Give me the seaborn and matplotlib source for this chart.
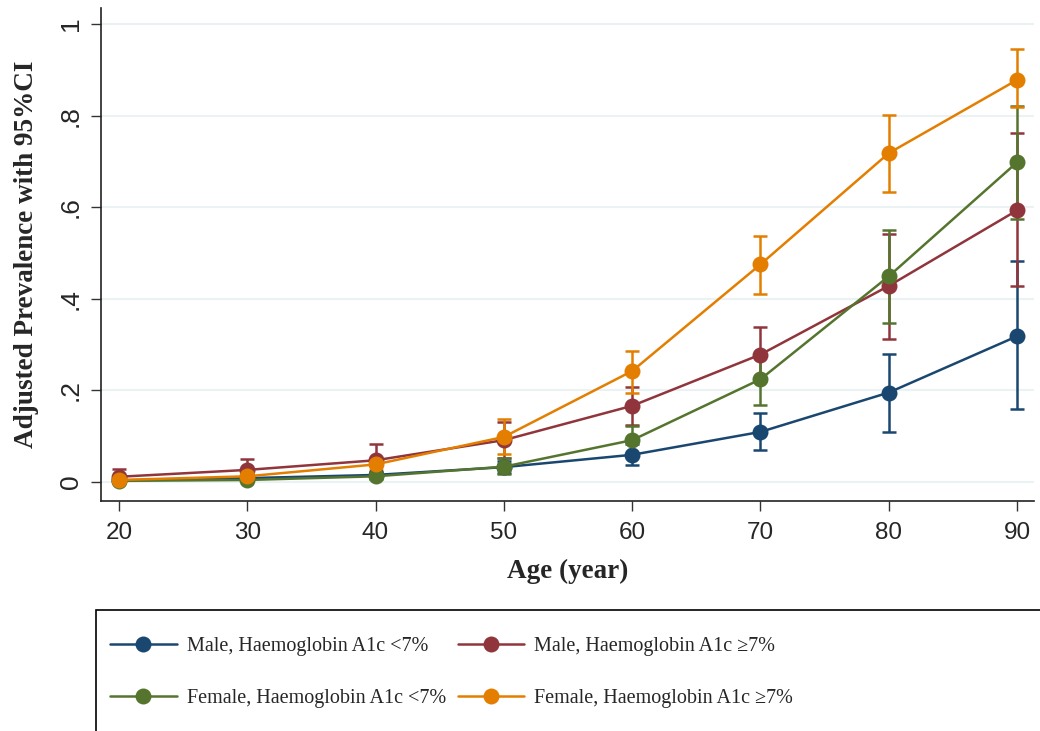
import numpy as np
import pandas as pd
import matplotlib
matplotlib.use("Agg")
import matplotlib.pyplot as plt
from matplotlib.patches import Rectangle
import seaborn as sns

# values
ages = [20, 30, 40, 50, 60, 70, 80, 90]
groups = ["Male, Haemoglobin A1c <7%", "Male, Haemoglobin A1c \u22657%",
          "Female, Haemoglobin A1c <7%", "Female, Haemoglobin A1c \u22657%"]

male_low = [0.003, 0.008, 0.015, 0.032, 0.059, 0.109, 0.195, 0.318]
male_low_lo = [0.000, 0.003, 0.008, 0.020, 0.036, 0.069, 0.109, 0.160]
male_low_hi = [0.007, 0.013, 0.022, 0.045, 0.082, 0.151, 0.279, 0.482]

male_high = [0.011, 0.026, 0.047, 0.091, 0.166, 0.278, 0.428, 0.593]
male_high_lo = [0.000, 0.004, 0.014, 0.053, 0.125, 0.220, 0.313, 0.428]
male_high_hi = [0.029, 0.049, 0.082, 0.131, 0.208, 0.339, 0.542, 0.761]

female_low = [0.002, 0.004, 0.012, 0.033, 0.091, 0.224, 0.449, 0.698]
female_low_lo = [0.000, 0.001, 0.006, 0.018, 0.062, 0.168, 0.346, 0.575]
female_low_hi = [0.005, 0.008, 0.018, 0.051, 0.122, 0.280, 0.551, 0.821]

female_high = [0.004, 0.012, 0.038, 0.098, 0.242, 0.475, 0.718, 0.878]
female_high_lo = [0.000, 0.004, 0.026, 0.060, 0.195, 0.411, 0.633, 0.818]
female_high_hi = [0.010, 0.020, 0.050, 0.138, 0.286, 0.537, 0.801, 0.945]

colors = ["#1a476f", "#90353b", "#55752f", "#e37e00"]

est = [male_low, male_high, female_low, female_high]
lo = [male_low_lo, male_high_lo, female_low_lo, female_high_lo]
hi = [male_low_hi, male_high_hi, female_low_hi, female_high_hi]

rows = []
for g, e, l, h in zip(groups, est, lo, hi):
    for a, v, vl, vh in zip(ages, e, l, h):
        rows.append({"age": a, "group": g, "prev": v, "lo": vl, "hi": vh})
df = pd.DataFrame(rows)

sns.set_style("white")
plt.rcParams["font.family"] = ["Liberation Sans", "DejaVu Sans"]
serif = ["Liberation Serif", "DejaVu Serif"]

fig = plt.figure(figsize=(10.4, 7.31), dpi=100)
ax = fig.add_axes([0.0971, 0.3146, 0.8969, 0.6744])

for y in [0, 0.2, 0.4, 0.6, 0.8, 1.0]:
    ax.axhline(y, color="#eaf2f3", lw=1.5, zorder=0)

palette = dict(zip(groups, colors))
for g in groups:
    sub = df[df["group"] == g]
    ax.errorbar(sub["age"], sub["prev"],
                yerr=[sub["prev"] - sub["lo"], sub["hi"] - sub["prev"]],
                fmt="none", ecolor=palette[g], elinewidth=1.8, capsize=5,
                capthick=1.8, zorder=2)
    sns.lineplot(data=sub, x="age", y="prev", color=palette[g], marker="o",
                 markersize=11.5, markeredgewidth=0, linewidth=1.8,
                 ax=ax, label=g, legend=False, zorder=3, errorbar=None)

ax.set_xlim(18.6, 91.3)
ax.set_ylim(-0.042, 1.035)
ax.set_xticks(ages)
ax.set_yticks([0, 0.2, 0.4, 0.6, 0.8, 1.0])
ax.set_yticklabels(["0", ".2", ".4", ".6", ".8", "1"], rotation=90, va="center")
ax.tick_params(axis="both", length=7, width=1, direction="out",
               color="#333333", left=True, bottom=True)
ax.tick_params(axis="x", labelsize=17.5, pad=8)
ax.tick_params(axis="y", labelsize=19, pad=6)
for s in ["top", "right"]:
    ax.spines[s].set_visible(False)
for s in ["left", "bottom"]:
    ax.spines[s].set_color("#222222")
    ax.spines[s].set_linewidth(1.2)

ax.set_xlabel("Age (year)", fontsize=19.5, fontweight="bold", family=serif,
              labelpad=11)
ax.set_ylabel("Adjusted Prevalence with 95%CI", fontsize=19.5,
              fontweight="bold", family=serif, labelpad=14)

# legend box running off the bottom/right edge like the original
fig.patches.append(Rectangle((96 / 1040, -0.05), 1.0, (731 - 610) / 731 + 0.05,
                             transform=fig.transFigure, fill=False,
                             edgecolor="black", lw=1.2, clip_on=False))
handles, labels = ax.get_legend_handles_labels()
hmap = dict(zip(labels, handles))
order = [groups[0], groups[2], groups[1], groups[3]]
fig.legend([hmap[k] for k in order], order, ncol=2, frameon=False,
           loc="upper left", bbox_to_anchor=(102 / 1040, (731 - 629) / 731),
           prop={"family": serif, "size": 14.5},
           handlelength=3.3, handletextpad=0.5, columnspacing=0.6,
           labelspacing=1.65, borderaxespad=0)

fig.savefig("out.png", dpi=100)
